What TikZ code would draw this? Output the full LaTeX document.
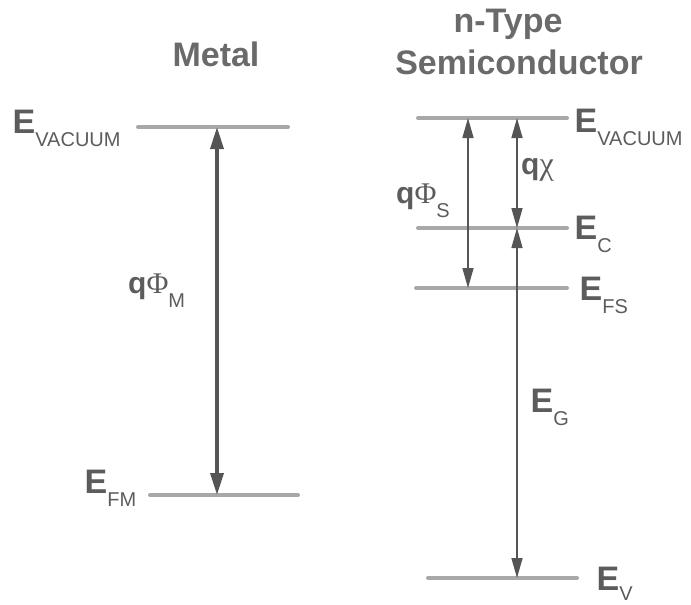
\documentclass[tikz,border=0pt]{standalone}
\usepackage{fontspec}
\setmainfont{Liberation Sans}
\newfontfamily\greekserif{Liberation Serif}
\usetikzlibrary{arrows.meta}
\definecolor{lvl}{HTML}{A8A8A8}
\definecolor{arr}{HTML}{555555}
\definecolor{txt}{HTML}{5C5C5C}
\definecolor{ttl}{HTML}{6A6A6A}
\newcommand{\Elev}[2][-13pt]{{\fontsize{34}{34}\selectfont\bfseries E}\raisebox{#1}{\fontsize{20}{20}\selectfont #2}}
\newcommand{\qsym}[2]{{\fontsize{30}{30}\selectfont\bfseries q}{\fontsize{30}{30}\selectfont\greekserif #1}\raisebox{-14pt}{\fontsize{20}{20}\selectfont #2}}
\begin{document}
\begin{tikzpicture}[x=1pt,y=-1pt,
  level/.style={draw=lvl,line width=4pt,line cap=round},
  ttlnode/.style={text=ttl,font=\fontsize{34}{34}\selectfont\bfseries,inner sep=0pt,anchor=base},
  lab/.style={text=txt,inner sep=0pt,anchor=base west},
  bigarrow/.style={draw=arr,line width=3.5pt,{Triangle[length=22pt,width=13pt]}-{Triangle[length=22pt,width=13pt]}},
  thinarrow/.style={draw=arr,line width=1.5pt,{Triangle[length=20pt,width=11pt]}-{Triangle[length=20pt,width=11pt]}}]
\useasboundingbox (0,0) rectangle (691,605);
% titles
\node[ttlnode] (metal) at (216,66) {Metal};
\node[ttlnode] (ntype) at (508,32) {n-Type};
\node[ttlnode] (semi) at (519,74) {Semiconductor};
% metal levels
\draw[level] (138,127) -- (288,127);
\draw[level] (150,495) -- (298,495);
\coordinate (mvac) at (217,127);
\coordinate (mfm) at (217,495);
\draw[bigarrow] (mvac) -- (mfm);
\node[lab] (evacm) at (12.5,133) {\Elev{VACUUM}};
\node[lab] (efm) at (84.5,493) {\Elev{FM}};
\node[lab] (qphim) at (128,293) {\qsym{Φ}{M}};
% semiconductor levels
\draw[level] (418,118) -- (567,118);
\draw[level] (418,228) -- (567,228);
\draw[level] (416,288) -- (567,288);
\draw[level] (428,578) -- (577,578);
\coordinate (svacA) at (468,118);
\coordinate (sfs) at (468,288);
\coordinate (svacB) at (517,118);
\coordinate (sc) at (517,228);
\coordinate (sv) at (517,578);
\draw[thinarrow] (svacA) -- (sfs);
\draw[thinarrow] (svacB) -- (sc);
\draw[thinarrow] (sc) -- (sv);
\node[lab] (evacs) at (574.5,132) {\Elev{VACUUM}};
\node[lab] (ec) at (574.5,239) {\Elev{C}};
\node[lab] (efs) at (579.5,300) {\Elev{FS}};
\node[lab] (ev) at (596.5,590) {\Elev[-10pt]{V}};
\node[lab] (eg) at (530.5,412) {\Elev{G}};
\node[lab] (qphis) at (396,203) {\qsym{Φ}{S}};
\node[lab] (qchi) at (521,174) {{\fontsize{30}{30}\selectfont\bfseries q}{\fontsize{32}{32}\selectfont\greekserif χ}};
\end{tikzpicture}
\end{document}
